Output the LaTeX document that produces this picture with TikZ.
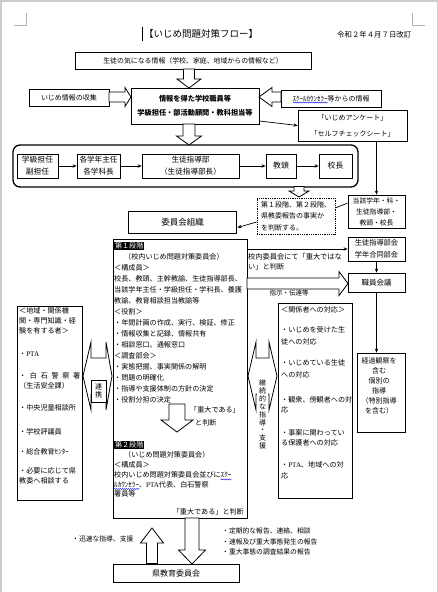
\documentclass[tikz,border=0pt]{standalone}
\usepackage{fontspec}
\setmainfont{Noto Sans CJK JP}
\newfontfamily\latserif{Liberation Serif}
\usetikzlibrary{arrows.meta,decorations.pathmorphing}
\newcommand\jfs[2]{\fontsize{#1}{#2}\selectfont}
% vertical hollow arrow: x, y1, y2, shaft half, head half, head length (signed)
\newcommand\hollowv[6]{\draw[hollow] ({#1-#4},#2) -- ({#1-#4},{#3-(#6)}) -- ({#1-#5},{#3-(#6)}) -- (#1,#3) -- ({#1+#5},{#3-(#6)}) -- ({#1+#4},{#3-(#6)}) -- ({#1+#4},#2) -- cycle;}
% horizontal hollow arrow: y, x1, x2, shaft half, head half, head length (signed)
\newcommand\hollowh[6]{\draw[hollow] (#2,{#1-#4}) -- ({#3-(#6)},{#1-#4}) -- ({#3-(#6)},{#1-#5}) -- (#3,#1) -- ({#3-(#6)},{#1+#5}) -- ({#3-(#6)},{#1+#4}) -- (#2,{#1+#4}) -- cycle;}
% left-right double arrow: left tip, left back, right back, right tip, yc, head half, shaft half
\newcommand\dblarrow[7]{\draw[hollow] (#1,#5) -- (#2,{#5-#6}) -- (#2,{#5-#7}) -- (#3,{#5-#7}) -- (#3,{#5-#6}) -- (#4,#5) -- (#3,{#5+#6}) -- (#3,{#5+#7}) -- (#2,{#5+#7}) -- (#2,{#5+#6}) -- cycle;}
\tikzset{
  box/.style={draw, line width=0.8pt, fill=white, inner sep=0pt, align=center},
  hollow/.style={draw, line width=0.8pt, fill=white, line join=miter},
  thinarrow/.style={line width=0.7pt, -{Stealth[length=4pt,width=3.4pt]}},
  txt/.style={inner sep=0pt, anchor=west},
  squig/.style={blue, line width=0.4pt, decorate, decoration={snake, amplitude=0.5pt, segment length=2pt}},
  stage/.style={inner sep=0.8pt, anchor=west, fill=black, text=white, font=\jfs{7.1}{8}},
}
\begin{document}
\begin{tikzpicture}[x=1pt,y=-1pt]
\useasboundingbox (0,0) rectangle (438,592);
\fill[white] (0,0) rectangle (438,592);
\draw[gray!40, line width=1.5pt] (0.75,592) -- (0.75,0.75) -- (437.25,0.75) -- (437.25,592);
\draw[gray!60, line width=0.6pt] (26,13) -- (26,25) -- (14,25);
\draw[gray!60, line width=0.6pt] (412,13) -- (412,25) -- (425,25);

% title
\node[inner sep=0pt, font=\jfs{9.5}{11}] (title) at (201,34) {【いじめ問題対策フロー】};
\draw[line width=0.5pt] (142,27) -- (142,41);
\node[txt, font=\jfs{7.4}{8}] (date) at (337,35) {令和２年４月７日改訂};

% top part
\node[box, minimum width=236pt, minimum height=17pt, font=\jfs{6.9}{8}] (top) at (193,60.5) {生徒の気になる情報（学校、家庭、地域からの情報など）};
\node[box, minimum width=80pt, minimum height=17pt, font=\jfs{7}{8}] (collect) at (69,97.5) {いじめ情報の収集};
\node[box, line width=0.9pt, minimum width=128pt, minimum height=36pt, font=\jfs{7.2}{14}\bfseries] (ctr) at (195,106) {情報を得た学校職員等\\学級担任・部活動顧問・教科担当等};
\node[box, minimum width=100pt, minimum height=17pt, font=\jfs{7}{8}] (sc) at (331,98.5) {ｽｸｰﾙｶｳﾝｾﾗｰ等からの情報};
\draw[squig] (293,102.5) -- (327.5,102.5);
\node[box, minimum width=109pt, minimum height=31pt, font=\jfs{7}{16}] (quest) at (352.5,125.5) {「いじめアンケート」\\「セルフチェックシート」};

\hollowv{189}{69}{88}{5.5}{12}{9}
\hollowh{97}{109}{131}{5}{9.5}{6}
\hollowh{97}{281}{259}{5}{9.5}{-13}
\hollowv{189}{124}{145}{6}{12.5}{9}
\draw[thinarrow] ([yshift=-15pt]ctr.east) -- (quest.west);

% flow
\node[draw, line width=1.3pt, rounded corners=7pt, minimum width=345pt, minimum height=42pt, inner sep=0pt] (flow) at (185.5,166) {};
\node[box, minimum width=41pt, minimum height=24pt, font=\jfs{7.8}{12}] (fa) at (37.5,166) {学級担任\\副担任};
\node[box, minimum width=43pt, minimum height=24pt, font=\jfs{7.6}{12}] (fb) at (98.5,166) {各学年主任\\各学科長};
\node[box, minimum width=97pt, minimum height=24pt, font=\jfs{7.6}{12}] (fc) at (190.5,166) {生徒指導部\\（生徒指導部長）};
\node[box, minimum width=30pt, minimum height=24pt, font=\jfs{7.8}{12}] (fd) at (281,166) {教頭};
\node[box, minimum width=33pt, minimum height=24pt, font=\jfs{7.8}{12}] (fe) at (335.5,166) {校長};
\draw[thinarrow] (fa) -- (fb);
\draw[thinarrow] (fb) -- (fc);
\draw[thinarrow] (fc) -- (fd);
\draw[thinarrow] (fd) -- (fe);

\hollowv{299}{186.5}{197}{5}{10}{6}
\node[box, densely dotted, minimum width=78pt, minimum height=36pt, align=left, font=\jfs{7}{11.5}] (dot) at (296,216) {第１段階、第２段階、\\県教委報告の事実か\\を判断する。};
\node[box, minimum width=57pt, minimum height=33pt, font=\jfs{6.8}{11}] (tg) at (376.5,211.5) {当該学年・科・\\生徒指導部・\\教頭・校長};
\draw[thinarrow] (tg.north |- quest.south) -- (tg.north);
\draw[line width=0.7pt] ([yshift=8pt]dot.east) -- ([yshift=8.5pt]tg.west);
\node[box, line width=1.9pt, minimum width=108pt, minimum height=22pt, font=\jfs{8.5}{10}] (iin) at (182.5,222.5) {委員会組織};
\draw[thinarrow] ([yshift=-6pt]dot.west) -- ([yshift=-5pt]iin.east);

% right column
\node[box, minimum width=57pt, minimum height=24pt, font=\jfs{7.2}{12}] (sg) at (376.5,249) {生徒指導部会\\学年合同部会};
\node[box, minimum width=57pt, minimum height=19pt, font=\jfs{7.5}{9}] (shok) at (376.5,282.5) {職員会議};
\node[box, minimum width=48pt, minimum height=79pt] (keika) at (381,392.5) {};
\node[inner sep=0pt, align=center, font=\jfs{7}{10}] (keikat) at (379,386) {経過観察を\\含む\\個別の\\指導\\（特別指導\\を含む）};
\draw[thinarrow] (sg) -- (shok);
\draw[thinarrow] (shok.south) -- (shok.south |- keika.north);

% main box
\node[box, minimum width=134pt, minimum height=279pt] (main) at (180,378.5) {};
\node[stage] (st1) at (114,246) {第１段階};
\foreach \x/\y/\t [count=\i] in {
  124/257/{（校内いじめ問題対策委員会）},
  114/268/{＜構成員＞},
  114/279/{校長、教頭、主幹教諭、生徒指導部長、},
  114/290/{当該学年主任・学級担任・学科長、養護},
  114/301/{教諭、教育相談担当教諭等},
  114/312/{＜役割＞},
  114/323/{・年間計画の作成、実行、検証、修正},
  114/334/{・情報収集と記録、情報共有},
  114/345/{・相談窓口、通報窓口},
  114/356/{＜調査部会＞},
  114/367/{・実態把握、事実関係の解明},
  114/378/{・問題の明確化},
  114/389/{・指導や支援体制の方針の決定},
  114/400/{・役割分担の決定}}
  \node[txt, font=\jfs{7.1}{8}] (ma\i) at (\x,\y) {\t};
\hollowv{177}{404}{432}{8}{16}{12}
\node[txt, font=\jfs{7.1}{8}] (jd1) at (190,410) {「重大である」};
\node[txt, font=\jfs{7.1}{8}] (jd2) at (195,423) {と判断};
\node[stage] (st2) at (114,445) {第２段階};
\foreach \x/\y/\t [count=\i] in {
  124/455/{（いじめ問題対策委員会）},
  114/465/{＜構成員＞},
  114/475/{校内いじめ問題対策委員会並びにｽｸｰ},
  114/485/{ﾙｶｳﾝｾﾗｰ、{\latserif PTA}代表、白石警察},
  114/494/{署員等}}
  \node[txt, font=\jfs{7.1}{8}] (mb\i) at (\x,\y) {\t};
\draw[squig] (220.5,479.5) -- (231.5,479.5);
\draw[squig] (114,489) -- (139.5,489);
\node[inner sep=0pt, anchor=east, font=\jfs{7.1}{8}] (jd3) at (244,512) {「重大である」と判断};

% main -> right column
\draw[thinarrow] (main.east |- sg.west) -- (sg.west);
\node[txt, font=\jfs{7.2}{8}] (nl1) at (248,257) {校内委員会にて「重大ではな};
\node[txt, font=\jfs{7.2}{8}] (nl2) at (248,267) {い」と判断};
\hollowh{283.5}{247}{348}{5.5}{12}{9}
\node[inner sep=0pt, font=\jfs{6.5}{8}] (shiji) at (289,293) {指示・伝達等};

% left box
\node[box, minimum width=65pt, minimum height=194pt] (left) at (49.5,403) {};
\foreach \y/\t [count=\i] in {
  311/{＜地域・関係機},
  321/{関・専門知識・経},
  331/{験を有する者＞},
  354/{・{\latserif PTA}},
  376/{\makebox[61pt][s]{・\hfill 白\hfill 石\hfill 警\hfill 察\hfill 署}},
  386/{（生活安全課）},
  408/{・中央児童相談所},
  432/{・学校評議員},
  452/{・総合教育ｾﾝﾀｰ},
  471/{・必要に応じて県},
  481/{教委へ相談する}}
  \node[txt, font=\jfs{7.1}{8}] (la\i) at (19,\y) {\t};

% left double arrow
\dblarrow{83}{91}{106}{112}{376}{34}{18}
\node[draw, fill=white, line width=0.6pt, minimum width=15pt, minimum height=22pt, inner sep=0pt, align=center, font=\jfs{7}{8.5}] (renkei) at (98.5,391) {連\\携};

% relation box
\node[box, minimum width=74pt, minimum height=195pt] (rel) at (315,400.5) {};
\foreach \y/\t [count=\i] in {
  310/{＜関係者への対応＞},
  330/{・いじめを受けた生},
  342/{徒への対応},
  363/{・いじめている生徒},
  375/{への対応},
  400/{・観衆、傍観者への対},
  410/{応},
  433/{・事案に関わってい},
  443/{る保護者への対応},
  465/{・{\latserif PTA}、地域への対},
  476/{応}}
  \node[txt, font=\jfs{7.1}{8}] (ra\i) at (281,\y) {\t};

% right double arrow
\dblarrow{248}{256}{269}{277}{376}{34}{18}
\node[fill=white, inner sep=0pt, minimum width=11pt, align=center, font=\jfs{7}{7.9}] (keizoku) at (262.5,414.5) {継\\続\\的\\な\\指\\導\\・\\支\\援};

% bottom
\node[box, minimum width=126pt, minimum height=18pt, font=\jfs{8}{9}] (ken) at (176,573) {県教育委員会};
\hollowv{152}{563.5}{528}{5.5}{11.5}{-15}
\hollowv{192}{518}{564}{7}{13.5}{14}
\node[txt, font=\jfs{6.8}{8}] (jinsoku) at (72,539) {・迅速な指導、支援};
\node[txt, font=\jfs{6.8}{8}] (rep1) at (222,531) {・定期的な報告、連絡、相談};
\node[txt, font=\jfs{6.8}{8}] (rep2) at (222,542) {・速報及び重大事態発生の報告};
\node[txt, font=\jfs{6.8}{8}] (rep3) at (222,552) {・重大事態の調査結果の報告};
\end{tikzpicture}
\end{document}
